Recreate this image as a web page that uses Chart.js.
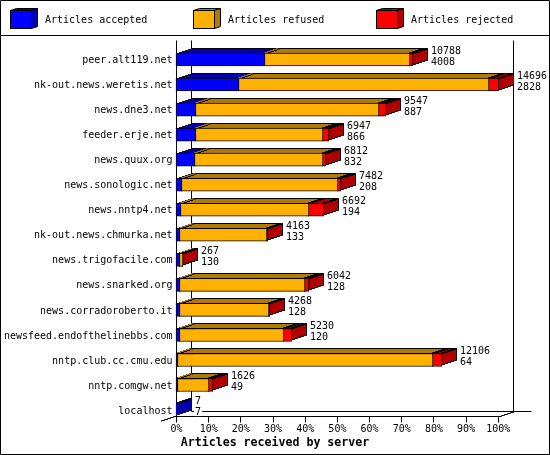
<!DOCTYPE html>
<html>
<head>
<meta charset="utf-8">
<style>
  html, body { margin: 0; padding: 0; background: #fff; }
  canvas { display: block; }
</style>
<script src="https://cdn.jsdelivr.net/npm/chart.js@4"></script>
</head>
<body>
<canvas id="grafico" width="550" height="455"></canvas>
<script>
const servers = ['peer.alt119.net', 'nk-out.news.weretis.net', 'news.dne3.net', 'feeder.erje.net', 'news.quux.org',
  'news.sonologic.net', 'news.nntp4.net', 'nk-out.news.chmurka.net', 'news.trigofacile.com', 'news.snarked.org',
  'news.corradoroberto.it', 'newsfeed.endofthelinebbs.com', 'nntp.club.cc.cmu.edu', 'nntp.comgw.net', 'localhost']
const totals = [10788, 14696, 9547, 6947, 6812, 7482, 6692, 4163, 267, 6042, 4268, 5230, 12106, 1626, 7]
const accepted = [4008, 2828, 887, 866, 832, 208, 194, 133, 130, 128, 128, 120, 64, 49, 7]
const refused = [6655, 11411, 8330, 5793, 5843, 7154, 5828, 3985, 125, 5709, 4080, 4760, 11612, 1407, 0]
const rejected = [125, 457, 330, 288, 137, 120, 670, 45, 12, 205, 60, 350, 430, 170, 0]
const tickPercents = [0, 10, 20, 30, 40, 50, 60, 70, 80, 90, 100]
const seriesNames = ['Articles accepted', 'Articles refused', 'Articles rejected']
const frontColors = ['#0000ff', '#ffb000', '#ff0000']
const darkColors = ['#0000b0', '#b07b00', '#b00000']
const serverMax = 14696

const monoFont = '"DejaVu Sans Mono", "Liberation Mono", monospace'
const depthX = 15
const depthY = 5

// diagonal going up-right in 3px stairs, same as the gd drawing
function stairs(ctx, x, y, steps, dir) {
  for (let i = 1; i <= steps; i++) {
    ctx.lineTo(x + dir * 3 * i, y - dir * (i - 1))
    ctx.lineTo(x + dir * 3 * i, y - dir * i)
  }
}

function box3d(ctx, x0, x1, top, bottom, dark, softLeft) {
  const steps = depthX / 3
  ctx.fillStyle = dark
  ctx.strokeStyle = '#000'
  ctx.lineWidth = 1
  // top face
  ctx.beginPath()
  ctx.moveTo(x0, top)
  stairs(ctx, x0, top, steps, 1)
  ctx.lineTo(x1 + depthX, top - depthY)
  stairs(ctx, x1 + depthX, top - depthY, steps, -1)
  ctx.closePath()
  ctx.fill()
  ctx.stroke()
  // side face
  ctx.beginPath()
  ctx.moveTo(x1, top)
  stairs(ctx, x1, top, steps, 1)
  ctx.lineTo(x1 + depthX, bottom - depthY)
  stairs(ctx, x1 + depthX, bottom - depthY, steps, -1)
  ctx.closePath()
  ctx.fill()
  ctx.stroke()
  // no black line between the blue and orange top faces
  if (softLeft) {
    ctx.strokeStyle = dark
    ctx.beginPath()
    ctx.moveTo(x0, top - 1)
    stairs(ctx, x0, top - 1, steps - 1, 1)
    ctx.lineTo(x0 + depthX, top - depthY + 1)
    ctx.stroke()
  }
}

function box3dLegend(ctx, x, y, w, h, color, dark) {
  ctx.strokeStyle = '#000'
  ctx.fillStyle = dark
  ctx.beginPath()
  ctx.moveTo(x, y)
  ctx.lineTo(x + 6, y - 2)
  ctx.lineTo(x + w + 6, y - 2)
  ctx.lineTo(x + w + 6, y + h - 2)
  ctx.lineTo(x + w, y + h)
  ctx.closePath()
  ctx.fill()
  ctx.stroke()
  ctx.beginPath()
  ctx.moveTo(x + w, y)
  ctx.lineTo(x + w + 6, y - 2)
  ctx.stroke()
  ctx.fillStyle = color
  ctx.fillRect(x, y, w, h)
  ctx.strokeRect(x, y, w, h)
}

const gdPlugin = {
  id: 'gd3d',
  afterLayout(chart) {
    // title is centred on the whole picture, not on the padded box
    chart.titleBlock.right = chart.width
  },
  beforeDatasetsDraw(chart) {
    const ctx = chart.ctx
    const sx = chart.scales.x
    const sy = chart.scales.y
    const x0 = Math.floor(sx.getPixelForValue(0)) + 0.5
    const x100 = Math.floor(sx.getPixelForValue(serverMax)) + 0.5
    const top = 40.5
    const floorFront = Math.round(sy.getPixelForValue(servers.length - 1) + 5.5) + 0.5
    const floorBack = floorFront - depthY

    ctx.save()
    ctx.fillStyle = '#fff'
    ctx.strokeStyle = '#000'
    ctx.lineWidth = 1

    // frame and legend rule
    ctx.beginPath()
    ctx.rect(0.5, 0.5, 549, 454)
    ctx.moveTo(0, 35.5)
    ctx.lineTo(550, 35.5)
    // walls and floor
    ctx.moveTo(x0, top)
    ctx.lineTo(x0, floorFront)
    ctx.lineTo(x100, floorFront)
    ctx.moveTo(x0 + depthX, top)
    ctx.lineTo(x0 + depthX, floorBack)
    ctx.moveTo(x100 + depthX, top)
    ctx.lineTo(x100 + depthX, floorBack)
    ctx.moveTo(x0 + depthX, floorBack)
    ctx.lineTo(x100 + depthX + 18, floorBack)
    ctx.moveTo(x0, floorFront)
    stairs(ctx, x0, floorFront, 5, -1)
    ctx.moveTo(x100, floorFront)
    stairs(ctx, x100, floorFront, 5, 1)
    tickPercents.forEach(p => {
      const x = Math.floor(sx.getPixelForValue(p / 100 * serverMax)) + 0.5
      ctx.moveTo(x, floorFront)
      ctx.lineTo(x, floorFront + 6)
    })
    ctx.stroke()

    // legend
    seriesNames.forEach((name, i) => {
      const left = 10.5 + i * 183
      box3dLegend(ctx, left, 10.5, 21, 18, frontColors[i], darkColors[i])
      ctx.fillStyle = '#000'
      ctx.font = '10px ' + monoFont
      ctx.textAlign = 'left'
      ctx.textBaseline = 'middle'
      ctx.fillText(name, 45 + i * 183, 20.5)
    })

    // 3d faces of each row, the library paints the front faces over them
    const series = [accepted, refused, rejected]
    servers.forEach((s, row) => {
      const cy = sy.getPixelForValue(row)
      const rowTop = Math.floor(cy - 6.5) + 0.5
      const rowBottom = rowTop + 12
      let sum = 0
      series.forEach((values, k) => {
        const el = chart.getDatasetMeta(k).data[row]
        const a = Math.floor(sx.getPixelForValue(sum))
        sum += values[row]
        const b = Math.floor(sx.getPixelForValue(sum))
        // snap the bar to whole pixels so the outline stays crisp
        el.base = a
        el.x = values[row] > 0 ? b + 1 : a
        if (values[row] > 0) box3d(ctx, a + 0.5, b + 0.5, rowTop, rowBottom, darkColors[k], k === 1)
      })
    })
    ctx.restore()
  },
  afterDatasetsDraw(chart) {
    const ctx = chart.ctx
    const sx = chart.scales.x
    const sy = chart.scales.y
    ctx.save()
    ctx.font = '10px ' + monoFont
    ctx.textAlign = 'left'
    ctx.textBaseline = 'middle'
    servers.forEach((s, row) => {
      const cy = sy.getPixelForValue(row)
      const x = Math.floor(sx.getPixelForValue(totals[row])) + depthX + 4
      const upper = String(totals[row])
      const lower = String(accepted[row])
      ctx.fillStyle = '#fff'
      ctx.fillRect(x - 1, cy - 15, ctx.measureText(upper).width + 2, 11)
      ctx.fillRect(x - 1, cy - 4, ctx.measureText(lower).width + 2, 10)
      ctx.fillStyle = '#000'
      ctx.fillText(upper, x, cy - 8.5)
      ctx.fillText(lower, x, cy + 2.5)
    })
    ctx.restore()
  }
}

const datasets = [accepted, refused, rejected].map((values, i) => ({
  label: seriesNames[i],
  data: values,
  backgroundColor: frontColors[i],
  borderColor: '#000',
  borderWidth: 1,
  borderSkipped: false,
  barThickness: 13,
  clip: false,
  stack: 'server'
}))

new Chart(document.querySelector('#grafico'), {
  type: 'bar',
  data: { labels: servers, datasets },
  plugins: [gdPlugin],
  options: {
    indexAxis: 'y',
    responsive: false,
    animation: false,
    devicePixelRatio: 1,
    layout: { padding: { top: 59.5, right: 51.7, left: 0, bottom: 0 } },
    plugins: {
      legend: { display: false },
      tooltip: { enabled: false },
      title: {
        display: true,
        position: 'bottom',
        text: 'Articles received by server',
        color: '#000',
        font: { family: monoFont, size: 11.6, weight: 'bold' },
        padding: { top: 0, bottom: 5 }
      }
    },
    scales: {
      x: {
        type: 'linear',
        min: 0,
        max: serverMax,
        stacked: true,
        border: { display: false },
        grid: { display: false, drawTicks: false },
        afterBuildTicks(scale) {
          scale.ticks = tickPercents.map(p => ({ value: p / 100 * serverMax }))
        },
        afterFit(scale) { scale.height = 26 },
        ticks: {
          autoSkip: false,
          maxRotation: 0,
          padding: 13,
          color: '#000',
          font: { family: monoFont, size: 10 },
          callback: v => Math.round(v / serverMax * 100) + '%'
        }
      },
      y: {
        type: 'category',
        offset: false,
        stacked: true,
        border: { display: false },
        grid: { display: false, drawTicks: false },
        afterFit(scale) { scale.width = 176.5 },
        ticks: {
          autoSkip: false,
          padding: 4,
          labelOffset: 1,
          color: '#000',
          font: { family: monoFont, size: 10 }
        }
      }
    }
  }
})
</script>
</body>
</html>
